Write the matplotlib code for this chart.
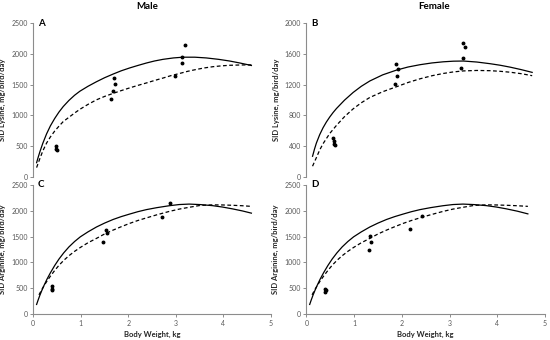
import matplotlib
matplotlib.use("Agg")
import matplotlib.pyplot as plt

plt.rcParams['font.family'] = ['Lato', 'DejaVu Sans']

# ---- panel A: male, lysine ----
a_solid_x = [0.07, 0.10, 0.14, 0.20, 0.28, 0.36, 0.45, 0.54, 0.63, 0.75, 0.87, 0.98, 1.15, 1.33,
             1.50, 1.68, 1.85, 2.03, 2.20, 2.38, 2.55, 2.73, 2.95, 3.15, 3.40, 3.64, 3.90, 4.13, 4.35, 4.59]
a_solid_y = [230, 310, 410, 545, 700, 830, 950, 1055, 1145, 1245, 1330, 1395, 1475, 1550,
             1615, 1675, 1728, 1775, 1815, 1855, 1888, 1915, 1938, 1950, 1950, 1938, 1915, 1888, 1855, 1815]
a_dash_x = [0.07, 0.10, 0.14, 0.20, 0.28, 0.36, 0.45, 0.54, 0.63, 0.75, 0.87, 0.98, 1.15, 1.33, 1.50, 1.68,
            1.85, 2.03, 2.20, 2.38, 2.55, 2.73, 2.90, 3.08, 3.25, 3.43, 3.60, 3.78, 3.95, 4.13, 4.35, 4.59]
a_dash_y = [150, 215, 300, 420, 550, 650, 745, 825, 900, 970, 1040, 1100, 1180, 1255, 1310, 1360,
            1405, 1450, 1490, 1530, 1570, 1610, 1650, 1685, 1720, 1750, 1775, 1795, 1808, 1818, 1823, 1825]
a_pts_x = [0.47, 0.48, 0.49, 1.70, 1.72, 1.68, 1.63, 3.19, 3.14, 3.12, 2.99]
a_pts_y = [510, 460, 430, 1618, 1515, 1396, 1271, 2153, 1958, 1856, 1650]

# ---- panel B: female, lysine ----
b_solid_x = [0.13, 0.17, 0.21, 0.28, 0.35, 0.42, 0.49, 0.56, 0.63, 0.80, 0.98, 1.15, 1.33, 1.60,
             1.89, 2.13, 2.38, 2.63, 2.87, 3.08, 3.29, 3.57, 3.85, 4.06, 4.27, 4.50, 4.73]
b_solid_y = [268, 360, 440, 550, 640, 715, 780, 838, 890, 1000, 1100, 1180, 1250, 1330,
             1392, 1432, 1462, 1485, 1500, 1508, 1510, 1497, 1475, 1455, 1430, 1398, 1362]
b_dash_x = [0.13, 0.17, 0.21, 0.28, 0.35, 0.49, 0.63, 0.80, 0.98, 1.15, 1.33, 1.60, 1.89,
            2.13, 2.38, 2.63, 2.87, 3.08, 3.29, 3.57, 3.85, 4.06, 4.27, 4.50, 4.73]
b_dash_y = [138, 195, 250, 350, 432, 565, 670, 785, 886, 965, 1035, 1110, 1175,
            1230, 1278, 1318, 1348, 1368, 1381, 1387, 1384, 1376, 1364, 1345, 1319]
b_pts_x = [0.55, 0.57, 0.57, 0.59, 1.88, 1.92, 1.90, 1.85, 3.28, 3.33, 3.28, 3.24]
b_pts_y = [510, 467, 424, 411, 1474, 1405, 1319, 1211, 1743, 1695, 1548, 1418]

# ---- panel C: male, arginine ----
c_solid_x = [0.07, 0.10, 0.14, 0.18, 0.22, 0.29, 0.36, 0.45, 0.54, 0.64, 0.75, 0.87, 0.99, 1.15, 1.33,
             1.50, 1.68, 1.85, 2.03, 2.20, 2.38, 2.60, 2.86, 3.07, 3.28, 3.52, 3.77, 3.98, 4.19, 4.40, 4.59]
c_solid_y = [190, 270, 370, 460, 545, 680, 800, 940, 1065, 1185, 1300, 1405, 1495, 1590, 1685,
             1760, 1830, 1885, 1935, 1980, 2020, 2058, 2095, 2118, 2127, 2117, 2097, 2070, 2035, 1995, 1952]
c_dash_x = [0.12, 0.16, 0.20, 0.28, 0.36, 0.45, 0.54, 0.64, 0.75, 0.87, 0.99, 1.15, 1.33, 1.50, 1.68,
            1.85, 2.03, 2.20, 2.38, 2.60, 2.86, 3.07, 3.28, 3.52, 3.77, 3.98, 4.19, 4.40, 4.59]
c_dash_y = [375, 445, 510, 630, 735, 845, 945, 1040, 1130, 1215, 1290, 1380, 1465, 1550, 1625,
            1690, 1755, 1810, 1860, 1920, 1985, 2030, 2065, 2102, 2112, 2110, 2104, 2095, 2083]
c_pts_x = [0.39, 0.40, 0.40, 1.53, 1.55, 1.46, 2.71, 2.87]
c_pts_y = [540, 490, 460, 1628, 1570, 1404, 1885, 2141]

# ---- panel D: female, arginine ----
d_solid_x = [0.07, 0.10, 0.14, 0.18, 0.22, 0.29, 0.36, 0.45, 0.54, 0.64, 0.75, 0.87, 0.99, 1.15, 1.33,
             1.50, 1.68, 1.85, 2.03, 2.20, 2.38, 2.60, 2.86, 3.07, 3.28, 3.52, 3.77, 3.98, 4.19, 4.42, 4.64]
d_solid_y = [190, 270, 370, 460, 545, 680, 800, 940, 1065, 1185, 1300, 1405, 1495, 1590, 1685,
             1760, 1830, 1885, 1935, 1980, 2020, 2058, 2095, 2118, 2127, 2117, 2097, 2070, 2035, 1990, 1938]
d_dash_x = [0.12, 0.16, 0.20, 0.28, 0.36, 0.45, 0.54, 0.64, 0.75, 0.87, 0.99, 1.15, 1.33, 1.50, 1.68,
            1.85, 2.03, 2.20, 2.43, 2.60, 2.86, 3.07, 3.28, 3.52, 3.77, 3.98, 4.19, 4.42, 4.64]
d_dash_y = [375, 445, 510, 630, 735, 845, 945, 1040, 1130, 1215, 1290, 1380, 1465, 1550, 1625,
            1690, 1755, 1810, 1875, 1920, 1985, 2030, 2065, 2102, 2112, 2110, 2104, 2095, 2083]
d_pts_x = [0.40, 0.41, 0.40, 1.34, 1.36, 1.32, 2.17, 2.43]
d_pts_y = [494, 468, 430, 1506, 1391, 1237, 1641, 1897]

lys_ticks_male = [0, 500, 1000, 1500, 2000, 2500]
lys_ticks_female = [0, 400, 800, 1200, 1600, 2000]
arg_ticks = [0, 500, 1000, 1500, 2000, 2500]
bw_ticks = [0, 1, 2, 3, 4, 5]

AXIS_GREY = "#8c8c8c"
TEXT_GREY = "#595959"

fig = plt.figure(figsize=(5.5, 3.4), dpi=100)
ax_a = fig.add_axes([0.0605, 0.480, 0.432, 0.451])
ax_b = fig.add_axes([0.557, 0.480, 0.434, 0.451])
ax_c = fig.add_axes([0.0605, 0.0756, 0.432, 0.381])
ax_d = fig.add_axes([0.557, 0.0756, 0.434, 0.381])

panels = [
    (ax_a, "A", a_solid_x, a_solid_y, a_dash_x, a_dash_y, a_pts_x, a_pts_y, lys_ticks_male, "SID Lysine, mg/bird/day", False),
    (ax_b, "B", b_solid_x, b_solid_y, b_dash_x, b_dash_y, b_pts_x, b_pts_y, lys_ticks_female, "SID Lysine, mg/bird/day", False),
    (ax_c, "C", c_solid_x, c_solid_y, c_dash_x, c_dash_y, c_pts_x, c_pts_y, arg_ticks, "SID Arginine, mg/bird/day", True),
    (ax_d, "D", d_solid_x, d_solid_y, d_dash_x, d_dash_y, d_pts_x, d_pts_y, arg_ticks, "SID Arginine, mg/bird/day", True),
]

for ax, letter, sx, sy, dx, dy, px, py, yt, ylab, show_x in panels:
    ax.plot(sx, sy, color="black", lw=0.9, solid_joinstyle="round")
    ax.plot(dx, dy, color="black", lw=0.9, linestyle=(0, (3, 2)))
    ax.plot(px, py, "o", color="black", markersize=1.8, linestyle="none")

    ax.set_xlim(0, 5)
    ax.set_ylim(yt[0], yt[-1])
    ax.set_yticks(yt)
    for side in ["top", "right"]:
        ax.spines[side].set_visible(False)
    ax.spines["left"].set_color(AXIS_GREY)
    ax.spines["left"].set_linewidth(0.8)
    ax.tick_params(axis="y", direction="out", length=2.5, width=0.7,
                   color=AXIS_GREY, labelsize=5, labelcolor=TEXT_GREY, pad=1.5)
    if show_x:
        ax.set_xticks(bw_ticks)
        ax.spines["bottom"].set_color(AXIS_GREY)
        ax.spines["bottom"].set_linewidth(0.8)
        ax.tick_params(axis="x", direction="out", length=2.5, width=0.7,
                       color=AXIS_GREY, labelsize=5, labelcolor=TEXT_GREY, pad=1.5)
        ax.set_xlabel("Body Weight, kg", fontsize=5.5, fontweight="bold",
                      color="#262626", labelpad=3)
    else:
        ax.spines["bottom"].set_visible(False)
        ax.set_xticks([])
    ax.set_ylabel(ylab, fontsize=5.5, fontweight="bold", color="#262626", labelpad=3.5)
    ax.text(0.02, 1.0, letter, transform=ax.transAxes, fontsize=7,
            fontweight="bold", ha="left", va="center")

fig.text(0.268, 0.982, "Male", fontsize=7, fontweight="bold", ha="center", va="center")
fig.text(0.79, 0.982, "Female", fontsize=7, fontweight="bold", ha="center", va="center")

fig.savefig("out.png", dpi=100)
